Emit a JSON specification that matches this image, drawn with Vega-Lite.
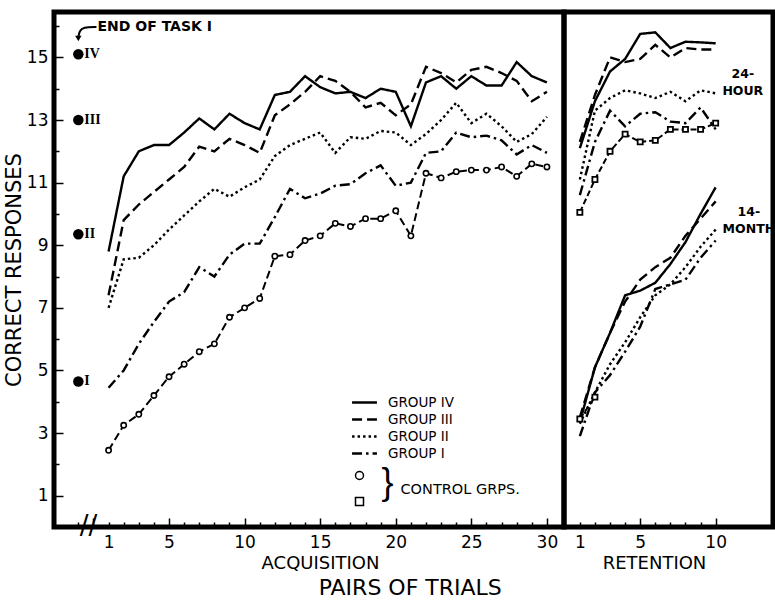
{
  "$schema": "https://vega.github.io/schema/vega-lite/v6.json",
  "background": "white",
  "padding": {"left": 0, "top": 9, "right": 0, "bottom": 5},
  "spacing": 0,
  "bounds": "flush",
  "config": {
    "view": {"stroke": "black", "strokeWidth": 5},
    "concat": {"spacing": 0},
    "font": "DejaVu Sans",
    "axis": {"domain": false, "grid": false, "tickColor": "black", "tickWidth": 1.5, "labelColor": "black", "titleColor": "black", "labelFont": "DejaVu Sans", "titleFont": "DejaVu Sans", "labelFontSize": 17, "titleFontWeight": "normal"}
  },
  "title": {"text": "PAIRS OF TRIALS", "orient": "bottom", "anchor": "middle", "fontSize": 22, "fontWeight": "normal", "font": "DejaVu Sans", "color": "black", "offset": 3, "dx": 21},
  "datasets": {
    "groups": [
      {"phase":"acq","series":"IV","x":1,"y":8.8},{"phase":"acq","series":"IV","x":2,"y":11.2},{"phase":"acq","series":"IV","x":3,"y":12.0},{"phase":"acq","series":"IV","x":4,"y":12.2},{"phase":"acq","series":"IV","x":5,"y":12.2},{"phase":"acq","series":"IV","x":6,"y":12.6},{"phase":"acq","series":"IV","x":7,"y":13.05},{"phase":"acq","series":"IV","x":8,"y":12.7},{"phase":"acq","series":"IV","x":9,"y":13.2},{"phase":"acq","series":"IV","x":10,"y":12.9},
      {"phase":"acq","series":"IV","x":11,"y":12.7},{"phase":"acq","series":"IV","x":12,"y":13.8},{"phase":"acq","series":"IV","x":13,"y":13.9},{"phase":"acq","series":"IV","x":14,"y":14.4},{"phase":"acq","series":"IV","x":15,"y":14.05},{"phase":"acq","series":"IV","x":16,"y":13.85},{"phase":"acq","series":"IV","x":17,"y":13.9},{"phase":"acq","series":"IV","x":18,"y":13.7},{"phase":"acq","series":"IV","x":19,"y":14.0},{"phase":"acq","series":"IV","x":20,"y":13.9},
      {"phase":"acq","series":"IV","x":21,"y":12.8},{"phase":"acq","series":"IV","x":22,"y":14.2},{"phase":"acq","series":"IV","x":23,"y":14.4},{"phase":"acq","series":"IV","x":24,"y":14.0},{"phase":"acq","series":"IV","x":25,"y":14.4},{"phase":"acq","series":"IV","x":26,"y":14.1},{"phase":"acq","series":"IV","x":27,"y":14.1},{"phase":"acq","series":"IV","x":28,"y":14.85},{"phase":"acq","series":"IV","x":29,"y":14.4},{"phase":"acq","series":"IV","x":30,"y":14.2},
      {"phase":"acq","series":"III","x":1,"y":7.4},{"phase":"acq","series":"III","x":2,"y":9.8},{"phase":"acq","series":"III","x":3,"y":10.3},{"phase":"acq","series":"III","x":4,"y":10.7},{"phase":"acq","series":"III","x":5,"y":11.1},{"phase":"acq","series":"III","x":6,"y":11.5},{"phase":"acq","series":"III","x":7,"y":12.15},{"phase":"acq","series":"III","x":8,"y":12.0},{"phase":"acq","series":"III","x":9,"y":12.4},{"phase":"acq","series":"III","x":10,"y":12.2},
      {"phase":"acq","series":"III","x":11,"y":11.95},{"phase":"acq","series":"III","x":12,"y":13.15},{"phase":"acq","series":"III","x":13,"y":13.5},{"phase":"acq","series":"III","x":14,"y":13.9},{"phase":"acq","series":"III","x":15,"y":14.4},{"phase":"acq","series":"III","x":16,"y":14.25},{"phase":"acq","series":"III","x":17,"y":13.9},{"phase":"acq","series":"III","x":18,"y":13.4},{"phase":"acq","series":"III","x":19,"y":13.55},{"phase":"acq","series":"III","x":20,"y":13.15},
      {"phase":"acq","series":"III","x":21,"y":13.5},{"phase":"acq","series":"III","x":22,"y":14.7},{"phase":"acq","series":"III","x":23,"y":14.5},{"phase":"acq","series":"III","x":24,"y":14.2},{"phase":"acq","series":"III","x":25,"y":14.6},{"phase":"acq","series":"III","x":26,"y":14.7},{"phase":"acq","series":"III","x":27,"y":14.5},{"phase":"acq","series":"III","x":28,"y":14.25},{"phase":"acq","series":"III","x":29,"y":13.6},{"phase":"acq","series":"III","x":30,"y":13.9},
      {"phase":"acq","series":"II","x":1,"y":7.0},{"phase":"acq","series":"II","x":2,"y":8.55},{"phase":"acq","series":"II","x":3,"y":8.6},{"phase":"acq","series":"II","x":4,"y":9.0},{"phase":"acq","series":"II","x":5,"y":9.5},{"phase":"acq","series":"II","x":6,"y":9.95},{"phase":"acq","series":"II","x":7,"y":10.4},{"phase":"acq","series":"II","x":8,"y":10.8},{"phase":"acq","series":"II","x":9,"y":10.55},{"phase":"acq","series":"II","x":10,"y":10.85},
      {"phase":"acq","series":"II","x":11,"y":11.1},{"phase":"acq","series":"II","x":12,"y":11.85},{"phase":"acq","series":"II","x":13,"y":12.2},{"phase":"acq","series":"II","x":14,"y":12.4},{"phase":"acq","series":"II","x":15,"y":12.6},{"phase":"acq","series":"II","x":16,"y":11.95},{"phase":"acq","series":"II","x":17,"y":12.45},{"phase":"acq","series":"II","x":18,"y":12.4},{"phase":"acq","series":"II","x":19,"y":12.65},{"phase":"acq","series":"II","x":20,"y":12.6},
      {"phase":"acq","series":"II","x":21,"y":12.2},{"phase":"acq","series":"II","x":22,"y":12.55},{"phase":"acq","series":"II","x":23,"y":13.0},{"phase":"acq","series":"II","x":24,"y":13.55},{"phase":"acq","series":"II","x":25,"y":12.9},{"phase":"acq","series":"II","x":26,"y":13.2},{"phase":"acq","series":"II","x":27,"y":12.8},{"phase":"acq","series":"II","x":28,"y":12.3},{"phase":"acq","series":"II","x":29,"y":12.55},{"phase":"acq","series":"II","x":30,"y":13.1},
      {"phase":"acq","series":"I","x":1,"y":4.45},{"phase":"acq","series":"I","x":2,"y":5.0},{"phase":"acq","series":"I","x":3,"y":5.85},{"phase":"acq","series":"I","x":4,"y":6.55},{"phase":"acq","series":"I","x":5,"y":7.2},{"phase":"acq","series":"I","x":6,"y":7.5},{"phase":"acq","series":"I","x":7,"y":8.3},{"phase":"acq","series":"I","x":8,"y":8.0},{"phase":"acq","series":"I","x":9,"y":8.7},{"phase":"acq","series":"I","x":10,"y":9.05},
      {"phase":"acq","series":"I","x":11,"y":9.05},{"phase":"acq","series":"I","x":12,"y":9.9},{"phase":"acq","series":"I","x":13,"y":10.8},{"phase":"acq","series":"I","x":14,"y":10.5},{"phase":"acq","series":"I","x":15,"y":10.65},{"phase":"acq","series":"I","x":16,"y":10.9},{"phase":"acq","series":"I","x":17,"y":10.95},{"phase":"acq","series":"I","x":18,"y":11.3},{"phase":"acq","series":"I","x":19,"y":11.55},{"phase":"acq","series":"I","x":20,"y":10.9},
      {"phase":"acq","series":"I","x":21,"y":11.0},{"phase":"acq","series":"I","x":22,"y":11.95},{"phase":"acq","series":"I","x":23,"y":12.0},{"phase":"acq","series":"I","x":24,"y":12.6},{"phase":"acq","series":"I","x":25,"y":12.45},{"phase":"acq","series":"I","x":26,"y":12.5},{"phase":"acq","series":"I","x":27,"y":12.35},{"phase":"acq","series":"I","x":28,"y":11.9},{"phase":"acq","series":"I","x":29,"y":12.2},{"phase":"acq","series":"I","x":30,"y":11.95},
      {"phase":"24h","series":"IV","x":1,"y":12.1},{"phase":"24h","series":"IV","x":2,"y":13.6},{"phase":"24h","series":"IV","x":3,"y":14.55},{"phase":"24h","series":"IV","x":4,"y":14.95},{"phase":"24h","series":"IV","x":5,"y":15.75},{"phase":"24h","series":"IV","x":6,"y":15.8},{"phase":"24h","series":"IV","x":7,"y":15.3},{"phase":"24h","series":"IV","x":8,"y":15.5},{"phase":"24h","series":"IV","x":9,"y":15.48},{"phase":"24h","series":"IV","x":10,"y":15.45},
      {"phase":"24h","series":"III","x":1,"y":12.3},{"phase":"24h","series":"III","x":2,"y":13.8},{"phase":"24h","series":"III","x":3,"y":15.0},{"phase":"24h","series":"III","x":4,"y":14.85},{"phase":"24h","series":"III","x":5,"y":14.95},{"phase":"24h","series":"III","x":6,"y":15.4},{"phase":"24h","series":"III","x":7,"y":15.0},{"phase":"24h","series":"III","x":8,"y":15.3},{"phase":"24h","series":"III","x":9,"y":15.25},{"phase":"24h","series":"III","x":10,"y":15.25},
      {"phase":"24h","series":"II","x":1,"y":11.1},{"phase":"24h","series":"II","x":2,"y":13.3},{"phase":"24h","series":"II","x":3,"y":13.7},{"phase":"24h","series":"II","x":4,"y":13.95},{"phase":"24h","series":"II","x":5,"y":13.85},{"phase":"24h","series":"II","x":6,"y":13.7},{"phase":"24h","series":"II","x":7,"y":13.9},{"phase":"24h","series":"II","x":8,"y":13.6},{"phase":"24h","series":"II","x":9,"y":13.95},{"phase":"24h","series":"II","x":10,"y":13.85},
      {"phase":"24h","series":"I","x":1,"y":10.6},{"phase":"24h","series":"I","x":2,"y":12.3},{"phase":"24h","series":"I","x":3,"y":13.3},{"phase":"24h","series":"I","x":4,"y":12.8},{"phase":"24h","series":"I","x":5,"y":13.2},{"phase":"24h","series":"I","x":6,"y":13.25},{"phase":"24h","series":"I","x":7,"y":12.95},{"phase":"24h","series":"I","x":8,"y":12.9},{"phase":"24h","series":"I","x":9,"y":13.4},{"phase":"24h","series":"I","x":10,"y":12.7},
      {"phase":"14m","series":"IV","x":1,"y":3.35},{"phase":"14m","series":"IV","x":2,"y":5.1},{"phase":"14m","series":"IV","x":3,"y":6.2},{"phase":"14m","series":"IV","x":4,"y":7.4},{"phase":"14m","series":"IV","x":5,"y":7.55},{"phase":"14m","series":"IV","x":6,"y":7.8},{"phase":"14m","series":"IV","x":7,"y":8.4},{"phase":"14m","series":"IV","x":8,"y":9.1},{"phase":"14m","series":"IV","x":9,"y":10.0},{"phase":"14m","series":"IV","x":10,"y":10.85},
      {"phase":"14m","series":"III","x":1,"y":3.5},{"phase":"14m","series":"III","x":2,"y":5.1},{"phase":"14m","series":"III","x":3,"y":6.2},{"phase":"14m","series":"III","x":4,"y":7.2},{"phase":"14m","series":"III","x":5,"y":7.9},{"phase":"14m","series":"III","x":6,"y":8.3},{"phase":"14m","series":"III","x":7,"y":8.6},{"phase":"14m","series":"III","x":8,"y":9.3},{"phase":"14m","series":"III","x":9,"y":9.85},{"phase":"14m","series":"III","x":10,"y":10.4},
      {"phase":"14m","series":"II","x":1,"y":3.3},{"phase":"14m","series":"II","x":2,"y":4.3},{"phase":"14m","series":"II","x":3,"y":5.2},{"phase":"14m","series":"II","x":4,"y":5.9},{"phase":"14m","series":"II","x":5,"y":6.7},{"phase":"14m","series":"II","x":6,"y":7.4},{"phase":"14m","series":"II","x":7,"y":7.75},{"phase":"14m","series":"II","x":8,"y":8.3},{"phase":"14m","series":"II","x":9,"y":8.95},{"phase":"14m","series":"II","x":10,"y":9.5},
      {"phase":"14m","series":"I","x":1,"y":2.9},{"phase":"14m","series":"I","x":2,"y":4.3},{"phase":"14m","series":"I","x":3,"y":4.85},{"phase":"14m","series":"I","x":4,"y":5.6},{"phase":"14m","series":"I","x":5,"y":6.4},{"phase":"14m","series":"I","x":6,"y":7.6},{"phase":"14m","series":"I","x":7,"y":7.75},{"phase":"14m","series":"I","x":8,"y":7.9},{"phase":"14m","series":"I","x":9,"y":8.6},{"phase":"14m","series":"I","x":10,"y":9.15}
    ],
    "controls": [
      {"phase":"acq","ctrl":"C1","x":1,"y":2.45},{"phase":"acq","ctrl":"C1","x":2,"y":3.25},{"phase":"acq","ctrl":"C1","x":3,"y":3.6},{"phase":"acq","ctrl":"C1","x":4,"y":4.2},{"phase":"acq","ctrl":"C1","x":5,"y":4.8},{"phase":"acq","ctrl":"C1","x":6,"y":5.2},{"phase":"acq","ctrl":"C1","x":7,"y":5.6},{"phase":"acq","ctrl":"C1","x":8,"y":5.85},{"phase":"acq","ctrl":"C1","x":9,"y":6.7},{"phase":"acq","ctrl":"C1","x":10,"y":7.0},
      {"phase":"acq","ctrl":"C1","x":11,"y":7.3},{"phase":"acq","ctrl":"C1","x":12,"y":8.65},{"phase":"acq","ctrl":"C1","x":13,"y":8.7},{"phase":"acq","ctrl":"C1","x":14,"y":9.15},{"phase":"acq","ctrl":"C1","x":15,"y":9.3},{"phase":"acq","ctrl":"C1","x":16,"y":9.7},{"phase":"acq","ctrl":"C1","x":17,"y":9.6},{"phase":"acq","ctrl":"C1","x":18,"y":9.85},{"phase":"acq","ctrl":"C1","x":19,"y":9.85},{"phase":"acq","ctrl":"C1","x":20,"y":10.1},
      {"phase":"acq","ctrl":"C1","x":21,"y":9.3},{"phase":"acq","ctrl":"C1","x":22,"y":11.3},{"phase":"acq","ctrl":"C1","x":23,"y":11.15},{"phase":"acq","ctrl":"C1","x":24,"y":11.35},{"phase":"acq","ctrl":"C1","x":25,"y":11.4},{"phase":"acq","ctrl":"C1","x":26,"y":11.4},{"phase":"acq","ctrl":"C1","x":27,"y":11.5},{"phase":"acq","ctrl":"C1","x":28,"y":11.2},{"phase":"acq","ctrl":"C1","x":29,"y":11.6},{"phase":"acq","ctrl":"C1","x":30,"y":11.5},
      {"phase":"24h","ctrl":"C2","x":1,"y":10.05},{"phase":"24h","ctrl":"C2","x":2,"y":11.1},{"phase":"24h","ctrl":"C2","x":3,"y":12.0},{"phase":"24h","ctrl":"C2","x":4,"y":12.55},{"phase":"24h","ctrl":"C2","x":5,"y":12.3},{"phase":"24h","ctrl":"C2","x":6,"y":12.35},{"phase":"24h","ctrl":"C2","x":7,"y":12.7},{"phase":"24h","ctrl":"C2","x":8,"y":12.7},{"phase":"24h","ctrl":"C2","x":9,"y":12.7},{"phase":"24h","ctrl":"C2","x":10,"y":12.9},
      {"phase":"14m","ctrl":"C2","x":1,"y":3.45},{"phase":"14m","ctrl":"C2","x":2,"y":4.15}
    ],
    "endtask": [
      {"x":-1,"y":15.1,"label":"IV"},{"x":-1,"y":13.0,"label":"III"},{"x":-1,"y":9.35,"label":"II"},{"x":-1,"y":4.65,"label":"I"}
    ],
    "leftnotes": [
      {"x":0.27,"y":15.97,"text":"END OF TASK I","kind":"title"},
      {"x":-0.32,"y":0.03,"text":"//","kind":"break"},
      {"x":19.45,"y":1.41,"text":"}","kind":"brace"}
    ],
    "arrow": [
      {"x":0.2,"y":15.97,"order":1},{"x":-0.68,"y":15.97,"order":2},{"x":-0.92,"y":15.85,"order":3},{"x":-1.0,"y":15.65,"order":4}
    ],
    "arrowhead": [{"x":-1.0,"y":15.6}],
    "rightnotes": [
      {"x":11.8,"y":14.47,"text":"24-\nHOUR"},
      {"x":12.2,"y":10.06,"text":"14-\nMONTH"}
    ]
  },
  "resolve": {"scale": {"strokeDash": "independent", "shape": "independent"}, "legend": {"strokeDash": "independent", "shape": "independent"}},
  "hconcat": [
    {
      "width": 510,
      "height": 515,
      "encoding": {
        "x": {"field": "x", "type": "quantitative", "scale": {"domain": [-2.61, 31.13], "nice": false, "zero": false},
          "axis": {"values": [-1,0,1,2,3,4,5,6,7,8,9,10,11,12,13,14,15,16,17,18,19,20,21,22,23,24,25,26,27,28,29,30],
            "labelExpr": "indexof([1,5,10,15,20,25,30], datum.value) >= 0 ? datum.label : ''",
            "tickSize": {"condition": {"test": "datum.value % 5 == 0", "value": -9}, "value": -5},
            "labelPadding": {"condition": {"test": "datum.value % 5 == 0", "value": 16}, "value": 12},
            "title": "ACQUISITION", "titleFontSize": 18, "titleX": 266, "titlePadding": 4}},
        "y": {"field": "y", "type": "quantitative", "scale": {"domain": [0, 16.45], "nice": false, "zero": false},
          "axis": {"values": [1,2,3,4,5,6,7,8,9,10,11,12,13,14,15,16],
            "labelExpr": "datum.value % 2 == 1 ? datum.label : ''",
            "tickSize": {"condition": {"test": "datum.value % 2 == 1", "value": -9}, "value": -5},
            "labelPadding": {"condition": {"test": "datum.value % 2 == 1", "value": 15}, "value": 11},
            "title": "CORRECT RESPONSES", "titleFontSize": 21, "titlePadding": 2}}
      },
      "layer": [
        {
          "data": {"name": "groups"},
          "transform": [{"filter": "datum.phase == 'acq'"}],
          "mark": {"type": "line", "color": "black", "strokeWidth": 2.4},
          "encoding": {
            "strokeDash": {"field": "series", "type": "nominal",
              "scale": {"domain": ["IV","III","II","I"], "range": [[1,0],[10,5],[2.5,3],[10,4,2.5,4]]},
              "legend": {"orient": "none", "legendX": 300, "legendY": 380, "title": null, "symbolType": "M -1.37 0 L 1.37 0", "symbolSize": 330, "symbolStrokeWidth": 2.4, "symbolStrokeColor": "black", "symbolFillColor": "transparent", "labelExpr": "'GROUP ' + datum.label", "labelFont": "DejaVu Sans", "labelFontSize": 13.5, "labelColor": "black", "rowPadding": 0, "labelOffset": 13}}
          }
        },
        {
          "data": {"name": "controls"},
          "transform": [{"filter": "datum.phase == 'acq'"}],
          "mark": {"type": "line", "color": "black", "strokeWidth": 2, "strokeDash": [8,4]},
          "encoding": {"detail": {"field": "ctrl"}}
        },
        {
          "data": {"name": "controls"},
          "transform": [{"filter": "datum.phase == 'acq'"}],
          "mark": {"type": "point", "filled": true, "fill": "white", "stroke": "black", "strokeWidth": 1.6, "size": 28, "opacity": 1},
          "encoding": {
            "shape": {"field": "ctrl", "type": "nominal", "scale": {"domain": ["C1","C2"], "range": ["circle","square"]},
              "legend": {"orient": "none", "legendX": 300.5, "legendY": 458.5, "title": "CONTROL GRPS.", "titleOrient": "right", "titleAnchor": "middle", "titleBaseline": "middle", "titleFont": "DejaVu Sans", "titleFontSize": 14.5, "titleFontWeight": "normal", "titleColor": "black", "titlePadding": 32, "labelExpr": "''", "symbolSize": 64, "rowPadding": 12,
                "encode": {"symbols": {"update": {
                  "size": {"value": 64},
                  "stroke": {"value": "black"},
                  "strokeWidth": {"value": 1.8},
                  "fill": {"value": "white"},
                  "opacity": {"value": 1},
                  "fillOpacity": {"value": 1},
                  "strokeOpacity": {"value": 1}
                }}}}}
          }
        },
        {
          "data": {"name": "endtask"},
          "mark": {"type": "point", "filled": true, "color": "black", "size": 110, "opacity": 1}
        },
        {
          "data": {"name": "endtask"},
          "mark": {"type": "text", "align": "left", "baseline": "middle", "dx": 6, "font": "Liberation Serif", "fontWeight": "bold", "fontSize": 14, "color": "black"},
          "encoding": {"text": {"field": "label"}}
        },
        {
          "data": {"name": "leftnotes"},
          "transform": [{"filter": "datum.kind == 'title'"}],
          "mark": {"type": "text", "align": "left", "baseline": "middle", "font": "DejaVu Sans", "fontWeight": "bold", "fontSize": 14, "color": "black"},
          "encoding": {"text": {"field": "text"}}
        },
        {
          "data": {"name": "leftnotes"},
          "transform": [{"filter": "datum.kind == 'break'"}],
          "mark": {"type": "text", "align": "center", "baseline": "middle", "font": "DejaVu Sans", "fontSize": 26, "color": "black"},
          "encoding": {"text": {"field": "text"}}
        },
        {
          "data": {"name": "leftnotes"},
          "transform": [{"filter": "datum.kind == 'brace'"}],
          "mark": {"type": "text", "align": "center", "baseline": "middle", "font": "Liberation Sans", "fontSize": 36, "color": "black"},
          "encoding": {"text": {"field": "text"}}
        },
        {
          "data": {"name": "arrow"},
          "mark": {"type": "line", "color": "black", "strokeWidth": 2, "interpolate": "basis"},
          "encoding": {"order": {"field": "order"}}
        },
        {
          "data": {"name": "arrowhead"},
          "mark": {"type": "point", "shape": "triangle-down", "filled": true, "color": "black", "size": 40, "opacity": 1}
        }
      ]
    },
    {
      "width": 209,
      "height": 515,
      "encoding": {
        "x": {"field": "x", "type": "quantitative", "scale": {"domain": [-0.05, 13.8], "nice": false, "zero": false},
          "axis": {"values": [1,2,3,4,5,6,7,8,9,10],
            "labelExpr": "indexof([1,5,10], datum.value) >= 0 ? datum.label : ''",
            "tickSize": {"condition": {"test": "datum.value % 5 == 0", "value": -9}, "value": -5},
            "labelPadding": {"condition": {"test": "datum.value % 5 == 0", "value": 16}, "value": 12},
            "title": "RETENTION", "titleFontSize": 18, "titleX": 90, "titlePadding": 4}},
        "y": {"field": "y", "type": "quantitative", "scale": {"domain": [0, 16.45], "nice": false, "zero": false}, "axis": null}
      },
      "layer": [
        {
          "data": {"name": "groups"},
          "transform": [{"filter": "datum.phase != 'acq'"}],
          "mark": {"type": "line", "color": "black", "strokeWidth": 2.4},
          "encoding": {
            "strokeDash": {"field": "series", "type": "nominal",
              "scale": {"domain": ["IV","III","II","I"], "range": [[1,0],[10,5],[2.5,3],[10,4,2.5,4]]}, "legend": null},
            "detail": {"field": "phase"}
          }
        },
        {
          "data": {"name": "controls"},
          "transform": [{"filter": "datum.phase != 'acq'"}],
          "mark": {"type": "line", "color": "black", "strokeWidth": 2, "strokeDash": [6,3]},
          "encoding": {"detail": {"field": "phase"}}
        },
        {
          "data": {"name": "controls"},
          "transform": [{"filter": "datum.phase != 'acq'"}],
          "mark": {"type": "point", "filled": true, "fill": "white", "stroke": "black", "strokeWidth": 1.8, "size": 26, "opacity": 1, "shape": "square"}
        },
        {
          "data": {"name": "rightnotes"},
          "mark": {"type": "text", "align": "center", "baseline": "middle", "lineBreak": "\n", "lineHeight": 17, "font": "DejaVu Sans", "fontWeight": "bold", "fontSize": 12.5, "color": "black"},
          "encoding": {"text": {"field": "text"}}
        }
      ]
    }
  ]
}
